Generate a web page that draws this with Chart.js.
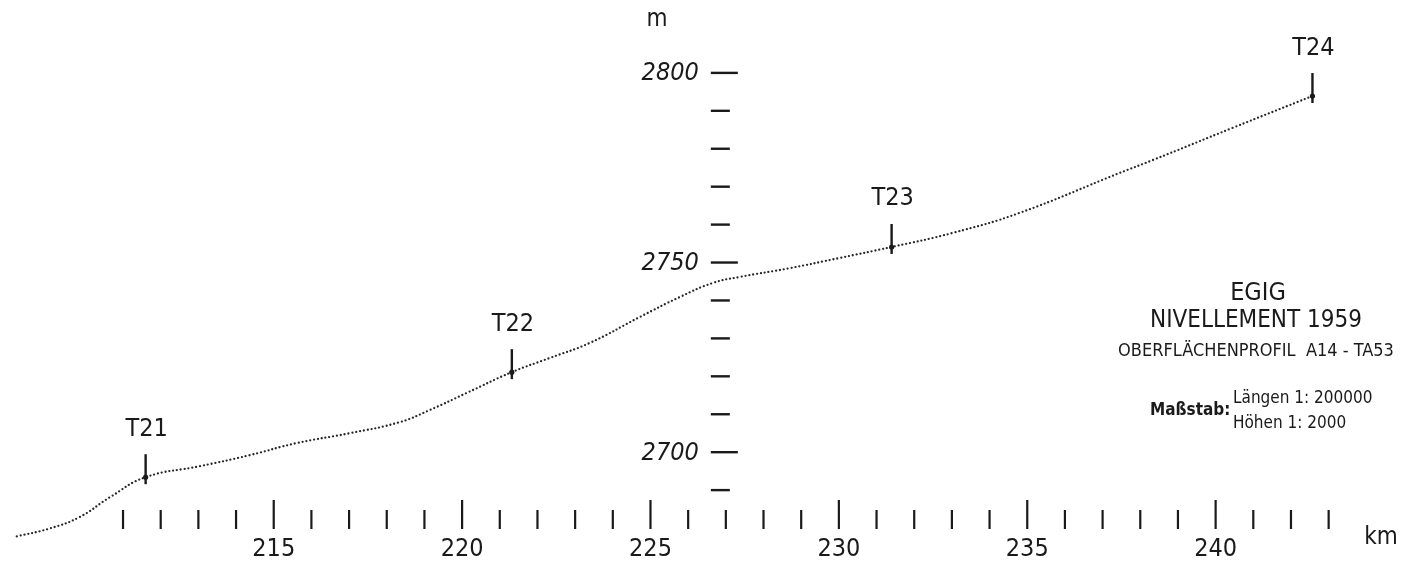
<!DOCTYPE html>
<html lang="de">
<head>
    <meta charset="UTF-8">
    <title>EGIG Nivellement 1959</title>
    <script src="https://cdn.jsdelivr.net/npm/chart.js@4.4.0/dist/chart.umd.min.js"></script>
    <style>
        body {
            margin: 0;
            background: #ffffff;
            font-family: "Liberation Sans Narrow", "DejaVu Sans Condensed", "Liberation Sans", sans-serif;
            color: #1a1a1a;
        }
        .wrap {
            position: relative;
            width: 1412px;
            height: 574px;
        }
        canvas {
            display: block;
        }
        .legende {
            position: absolute;
            width: 312px;
            text-align: center;
            line-height: 1;
            white-space: nowrap;
        }
        .massstab {
            position: absolute;
            font-size: 17px;
            line-height: 1;
            white-space: nowrap;
        }
    </style>
</head>
<body>
    <div class="wrap">
        <canvas id="profil" width="1412" height="574"></canvas>
        <div class="legende" style="top:279px;left:1102px;font-size:25px;">EGIG</div>
        <div class="legende" style="top:307px;left:1100px;font-size:24px;">NIVELLEMENT 1959</div>
        <div class="legende" style="top:341px;left:1100px;font-size:18px;">OBERFLÄCHENPROFIL&nbsp;&nbsp;A14 - TA53</div>
        <div class="massstab" style="top:401px;left:1150px;font-weight:bold;">Maßstab:</div>
        <div class="massstab" style="top:389px;left:1233px;">Längen 1: 200000</div>
        <div class="massstab" style="top:414px;left:1233px;">Höhen 1: 2000</div>
    </div>

    <script>
        const profileKm = [208.18, 209.06, 209.85, 210.65, 211.6, 213.04, 214.36, 215.61, 217.02, 218.34, 219.14,
            220.12, 221.32, 222.32, 223.39, 224.71, 225.78, 226.65, 227.37, 228.69, 230.02,
            231.4, 233.02, 234.8, 237.45, 238.33, 240.45, 242.57];
        const profileHeight = [2677.8, 2679.9, 2682.9, 2688.1, 2693.4, 2696.3, 2699.2, 2702.4, 2705.0, 2707.9, 2711.1,
            2715.6, 2721.1, 2724.8, 2728.8, 2735.6, 2740.9, 2744.6, 2746.2, 2748.5, 2751.2,
            2754.1, 2757.8, 2763.1, 2773.6, 2777.0, 2785.5, 2793.9];

        // Stationen
        const stationNames = ['T21', 'T22', 'T23', 'T24'];
        const stationKm = [211.6, 221.32, 231.4, 242.57];
        const stationHeight = [2693.4, 2721.1, 2754.1, 2793.9];

        // Achsen
        const kmTickFirst = 211;
        const kmTickLast = 243;
        const kmLabels = [215, 220, 225, 230, 235, 240];
        const heightTickFirst = 2690;
        const heightTickLast = 2800;
        const heightLabels = [2700, 2750, 2800];
        const axisKm = 227;

        const ink = '#1a1a1a';
        const fontNarrow = '"Liberation Sans Narrow", "DejaVu Sans Condensed", "Liberation Sans", sans-serif';

        const zeichnung = {
            id: 'zeichnung',
            afterDatasetsDraw(chart) {
                const ctx = chart.ctx;
                const xs = chart.scales.x;
                const ys = chart.scales.y;
                ctx.save();
                ctx.strokeStyle = ink;
                ctx.fillStyle = ink;
                ctx.lineCap = 'butt';

                // km-Teilung unten
                ctx.lineWidth = 2.2;
                for (let km = kmTickFirst; km <= kmTickLast; km++) {
                    const px = xs.getPixelForValue(km);
                    const major = kmLabels.includes(km);
                    ctx.beginPath();
                    ctx.moveTo(px, major ? 500 : 510);
                    ctx.lineTo(px, 529);
                    ctx.stroke();
                }
                ctx.font = '25px ' + fontNarrow;
                ctx.textAlign = 'center';
                ctx.textBaseline = 'middle';
                kmLabels.forEach(km => {
                    ctx.fillText(String(km), xs.getPixelForValue(km), 549);
                });
                ctx.font = '24px ' + fontNarrow;
                ctx.fillText('km', 1381, 538);

                // Höhenteilung an der Achse
                const ax = xs.getPixelForValue(axisKm);
                ctx.lineWidth = 2.4;
                for (let h = heightTickFirst; h <= heightTickLast; h += 10) {
                    const py = ys.getPixelForValue(h);
                    const major = heightLabels.includes(h);
                    ctx.beginPath();
                    ctx.moveTo(ax - 15, py);
                    ctx.lineTo(ax + (major ? 12 : 4), py);
                    ctx.stroke();
                }
                ctx.font = 'italic 25px ' + fontNarrow;
                ctx.textAlign = 'right';
                heightLabels.forEach(h => {
                    ctx.fillText(String(h), ax - 27, ys.getPixelForValue(h) + 1);
                });
                ctx.font = '24px ' + fontNarrow;
                ctx.textAlign = 'center';
                ctx.fillText('m', 657, 20);

                // Stationsmarken
                ctx.lineWidth = 2.4;
                ctx.font = '25px ' + fontNarrow;
                stationNames.forEach((name, i) => {
                    const px = xs.getPixelForValue(stationKm[i]);
                    const py = ys.getPixelForValue(stationHeight[i]);
                    ctx.beginPath();
                    ctx.moveTo(px, py - 23);
                    ctx.lineTo(px, py + 7);
                    ctx.stroke();
                    ctx.fillText(name, px + 1, py - 48);
                });
                ctx.restore();
            }
        };

        new Chart(document.getElementById('profil'), {
            type: 'scatter',
            data: {
                datasets: [
                    {
                        label: 'Oberflächenprofil',
                        data: profileKm.map((km, i) => ({ x: km, y: profileHeight[i] })),
                        showLine: true,
                        borderColor: '#262626',
                        borderWidth: 2.3,
                        borderDash: [0, 3.9],
                        borderCapStyle: 'round',
                        tension: 0.45,
                        pointRadius: 0
                    },
                    {
                        label: 'Stationen',
                        data: stationKm.map((km, i) => ({ x: km, y: stationHeight[i] })),
                        pointRadius: 2.6,
                        pointBackgroundColor: ink,
                        pointBorderWidth: 0
                    }
                ]
            },
            options: {
                responsive: false,
                animation: false,
                layout: { padding: { left: 10, right: 8, top: 16, bottom: 27 } },
                plugins: {
                    legend: { display: false },
                    tooltip: { enabled: false }
                },
                scales: {
                    x: { type: 'linear', min: 208, max: 245, display: false },
                    y: { type: 'linear', min: 2675, max: 2815, display: false }
                }
            },
            plugins: [zeichnung]
        });
    </script>
</body>
</html>
